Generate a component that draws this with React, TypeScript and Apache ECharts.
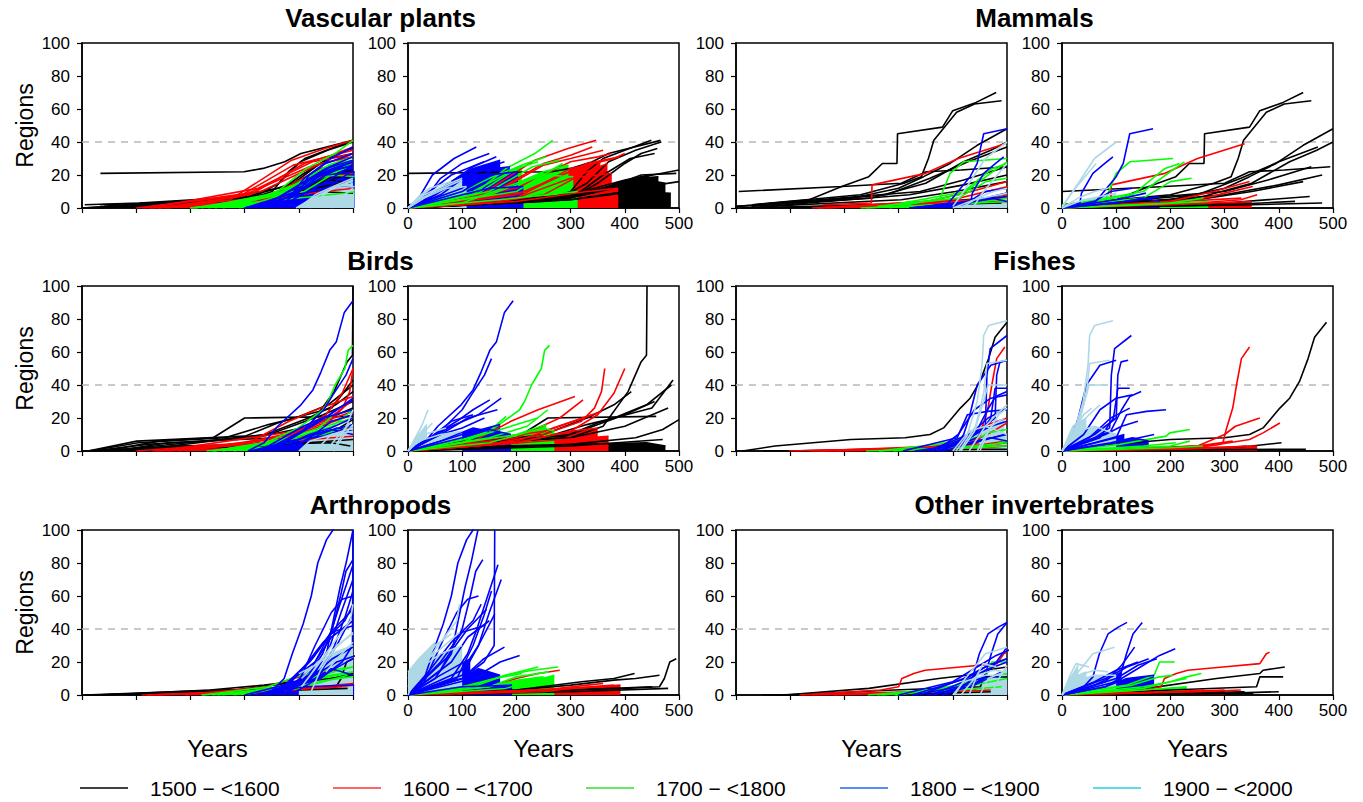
import React, { useEffect, useRef } from "react";
import * as echarts from "echarts";

// Each line: [firstRecordYear, t0, y0, t1, y1, ...] with t = years since first record, y = number of regions
type Line = number[];
// Dense bundle outline: [cohortIndex, firstRecordYear, t0, y0, ...] (drawn filled, as the dense mass of lines)
type Band = number[];

const FONT = "Arial, 'Liberation Sans', Helvetica, sans-serif";

const TAXA = ["Vascular plants", "Mammals", "Birds", "Fishes", "Arthropods", "Other invertebrates"];
const COHORTS = ["1500 \u2212 <1600", "1600 \u2212 <1700", "1700 \u2212 <1800", "1800 \u2212 <1900", "1900 \u2212 <2000"];
const LINE_COLORS = ["#000000", "#ff0000", "#00ff00", "#0000ff", "#add8e6"];
const LEGEND_COLORS = ["#000000", "#ff3333", "#33dd33", "#1f66ee", "#22d3e0"];
const Y_TICKS = [0, 20, 40, 60, 80, 100];
const YEAR_RANGE = [1500, 2000];
const ELAPSED_RANGE = [0, 500];
const TICK_STEP = 100;
const THRESHOLD = 40;

// ---------------- Vascular plants ----------------
const plantsK: Line[] = [
  [1534, 0, 21, 265, 22, 300, 24, 340, 28, 370, 33, 466, 41],
  [1551, 0, 1, 150, 3, 250, 5, 300, 10, 330, 22, 360, 30, 400, 35, 449, 41],
  [1533, 0, 2, 200, 4, 280, 6, 330, 15, 370, 28, 420, 35, 467, 40],
  [1500, 0, 0, 200, 4, 300, 8, 360, 12, 420, 18, 500, 23],
  [1500, 0, 0, 300, 5, 400, 10, 460, 14, 500, 16],
  [1540, 0, 1, 300, 6, 350, 15, 400, 27, 430, 33, 460, 36],
  [1545, 0, 1, 310, 8, 360, 20, 410, 30, 455, 33],
  [1505, 0, 2, 100, 3, 300, 7, 380, 14, 430, 20, 495, 21],
];
const plantsR: Line[] = [
  [1653, 0, 0, 120, 5, 234, 29, 295, 36, 347, 41],
  [1640, 0, 0, 150, 7, 250, 26, 300, 30, 360, 35],
  [1625, 0, 0, 200, 12, 300, 28, 350, 31, 375, 33],
  [1600, 0, 0, 200, 8, 320, 25, 380, 30, 400, 33],
  [1660, 0, 0, 150, 8, 250, 27, 300, 32, 340, 37],
  [1610, 0, 0, 220, 10, 330, 27, 390, 31],
];
const plantsG: Line[] = [
  [1733, 0, 0, 120, 8, 181, 24, 234, 33, 267, 41],
  [1760, 0, 0, 120, 10, 200, 24, 240, 28],
  [1720, 0, 0, 150, 10, 230, 25, 280, 29],
  [1745, 0, 0, 130, 9, 210, 26, 255, 31],
];
const plantsB: Line[] = [
  [1874, 0, 0, 20, 6, 45, 20, 85, 30, 126, 37],
  [1850, 0, 0, 30, 5, 60, 18, 100, 27, 150, 33],
  [1837, 0, 0, 40, 6, 80, 16, 120, 25, 163, 31],
  [1822, 0, 0, 50, 8, 100, 18, 140, 24, 178, 28],
  [1860, 0, 0, 40, 10, 80, 20, 140, 28],
  [1830, 0, 0, 60, 8, 110, 20, 170, 26],
];
const plantsL: Line[] = [
  [1900, 0, 0, 30, 8, 70, 14, 100, 18],
  [1920, 0, 0, 40, 12, 80, 16],
];
const plantsBand: Band[] = [
  [0, 1515, 0, 0, 300, 5, 420, 10, 485, 9],
  [0, 1520, 0, 0, 200, 3, 300, 6, 380, 12, 440, 17, 475, 15],
  [0, 1530, 0, 0, 250, 4, 350, 10, 420, 18, 462, 19],
  [0, 1550, 0, 0, 300, 8, 400, 17, 445, 20],
  [1, 1615, 0, 0, 200, 4, 330, 10, 388, 12],
  [1, 1625, 0, 0, 200, 6, 300, 18, 376, 21],
  [1, 1630, 0, 0, 150, 3, 250, 8, 330, 22, 368, 27],
  [1, 1640, 0, 0, 100, 2, 200, 6, 300, 24, 355, 28],
  [2, 1700, 0, 0, 200, 6, 313, 10],
  [2, 1705, 0, 0, 150, 8, 250, 20, 305, 19],
  [2, 1700, 0, 0, 100, 3, 200, 15, 250, 22, 296, 26],
  [2, 1710, 0, 0, 200, 10, 285, 27],
  [2, 1790, 0, 0, 100, 10, 150, 18, 210, 26],
  [3, 1800, 0, 0, 150, 12, 213, 13],
  [3, 1800, 0, 0, 100, 10, 150, 20, 203, 22],
  [3, 1810, 0, 0, 100, 12, 160, 24, 188, 25],
  [3, 1830, 0, 0, 70, 14, 120, 24, 170, 29],
  [3, 1860, 0, 0, 80, 14, 140, 26],
  [3, 1885, 0, 0, 50, 8, 115, 23],
  [4, 1900, 0, 0, 20, 5, 50, 10, 100, 17],
  [4, 1895, 0, 0, 30, 6, 70, 12, 108, 13],
  [4, 1960, 0, 0, 20, 7, 40, 12],
];

// ---------------- Mammals ----------------
const mammalsK: Line[] = [
  [1535, 0, 2, 100, 5, 160, 13, 210, 19, 235, 27, 262, 27, 263, 45, 346, 49, 365, 59, 408, 64, 445, 70],
  [1530, 0, 2, 200, 8, 280, 15, 312, 19, 325, 30, 335, 41, 377, 58, 410, 63, 460, 65],
  [1500, 0, 1, 200, 5, 300, 12, 346, 19, 395, 27, 445, 38, 500, 48],
  [1500, 0, 1, 250, 6, 350, 15, 420, 28, 470, 35, 500, 40],
  [1528, 0, 1, 250, 8, 330, 18, 400, 28, 472, 37],
  [1540, 0, 2, 300, 10, 380, 17, 460, 25],
  [1555, 0, 1, 250, 5, 350, 10, 445, 16],
  [1543, 0, 0, 300, 3, 457, 7],
  [1505, 0, 10, 190, 13, 300, 15, 346, 22, 410, 23, 495, 25],
  [1520, 0, 0, 300, 8, 400, 14, 480, 20],
  [1510, 0, 0, 350, 2, 480, 3],
  [1560, 0, 0, 300, 2, 430, 4],
];
const mammalsR: Line[] = [
  [1660, 0, 2, 90, 3, 91, 14, 190, 21, 250, 30, 337, 39],
  [1654, 0, 0, 200, 4, 280, 10, 346, 16],
  [1650, 0, 0, 250, 5, 300, 9, 352, 13],
  [1670, 0, 0, 331, 6],
  [1640, 0, 0, 250, 3, 330, 5, 360, 8],
];
const mammalsG: Line[] = [
  [1795, 0, 2, 80, 5, 100, 21, 125, 28, 205, 30],
  [1774, 0, 1, 150, 10, 200, 22, 226, 28],
  [1761, 0, 1, 150, 6, 200, 16, 239, 18],
  [1783, 0, 0, 130, 8, 190, 24, 217, 27],
  [1740, 0, 0, 200, 3, 260, 6],
];
const mammalsB: Line[] = [
  [1832, 0, 0, 60, 3, 100, 19, 113, 27, 125, 45, 168, 48],
  [1900, 0, 1, 33, 3, 36, 9, 57, 21, 79, 27, 94, 31],
  [1845, 0, 0, 100, 5, 155, 9],
  [1820, 0, 0, 120, 4, 180, 7],
  [1870, 0, 0, 60, 4, 90, 10, 130, 12],
];
const mammalsL: Line[] = [
  [1900, 0, 1, 20, 10, 40, 20, 60, 30, 100, 40],
  [1937, 0, 0, 15, 8, 40, 18, 63, 27],
  [1915, 0, 0, 30, 6, 60, 10, 85, 12],
];
const mammalsBand: Band[] = [
  [1, 1650, 0, 0, 200, 2, 350, 4],
  [2, 1730, 0, 0, 150, 2, 270, 4],
  [3, 1820, 0, 0, 100, 3, 150, 6, 180, 4],
  [4, 1900, 0, 0, 40, 5, 100, 9],
];

// ---------------- Birds ----------------
const birdsK: Line[] = [
  [1559, 0, 0, 100, 5, 300, 8, 360, 15, 406, 36, 430, 54, 440, 58, 441, 100],
  [1511, 0, 0, 90, 6, 290, 9, 350, 17, 380, 20, 450, 26, 489, 43],
  [1514, 0, 0, 90, 5, 250, 8, 330, 16, 380, 20, 440, 28, 486, 40],
  [1520, 0, 0, 100, 4, 300, 8, 400, 15, 480, 26],
  [1500, 0, 0, 300, 4, 420, 8, 470, 13, 500, 19],
  [1542, 0, 0, 100, 6, 200, 8, 258, 20, 458, 21],
  [1588, 0, 0, 250, 10, 330, 20, 380, 28, 412, 36],
  [1545, 0, 0, 300, 10, 400, 22, 455, 30],
  [1530, 0, 0, 300, 3, 470, 7],
];
const birdsR: Line[] = [
  [1637, 0, 0, 150, 4, 250, 10, 320, 18, 344, 26, 357, 36, 363, 50],
  [1600, 0, 0, 200, 5, 300, 12, 350, 22, 380, 35, 400, 50],
  [1692, 0, 0, 120, 6, 190, 18, 240, 25, 308, 33],
  [1677, 0, 0, 200, 8, 280, 20, 323, 31],
  [1643, 0, 0, 250, 12, 357, 24],
  [1660, 0, 0, 200, 6, 280, 15, 340, 22],
];
const birdsG: Line[] = [
  [1739, 0, 0, 100, 5, 160, 14, 206, 25, 215, 30, 228, 40, 246, 50, 252, 61, 261, 64],
  [1780, 0, 0, 100, 7, 150, 12, 181, 21],
  [1742, 0, 0, 150, 8, 220, 15, 258, 25],
  [1760, 0, 0, 120, 8, 200, 16, 240, 20],
];
const birdsB: Line[] = [
  [1806, 0, 0, 30, 5, 55, 15, 98, 28, 120, 37, 135, 48, 151, 61, 163, 66, 178, 84, 194, 91],
  [1846, 0, 0, 60, 12, 100, 25, 117, 34, 141, 46, 154, 56],
  [1828, 0, 0, 80, 15, 130, 22, 172, 32],
  [1849, 0, 0, 90, 18, 120, 25, 151, 31],
  [1859, 0, 0, 60, 10, 100, 14, 141, 20],
  [1880, 0, 0, 40, 8, 80, 18, 120, 22],
  [1835, 0, 0, 70, 12, 110, 20, 165, 25],
];
const birdsL: Line[] = [
  [1963, 0, 0, 10, 6, 25, 15, 37, 25],
  [1950, 0, 0, 20, 8, 45, 17],
  [1930, 0, 0, 30, 10, 70, 14],
];
const birdsBand: Band[] = [
  [0, 1520, 0, 0, 150, 3, 300, 4, 440, 5, 475, 3],
  [1, 1630, 0, 0, 250, 6, 370, 9],
  [1, 1650, 0, 0, 200, 5, 300, 12, 350, 14],
  [2, 1730, 0, 0, 150, 5, 250, 14, 270, 12],
  [2, 1745, 0, 0, 200, 10, 255, 16],
  [3, 1810, 0, 0, 100, 8, 150, 13, 190, 10],
  [3, 1830, 0, 0, 100, 10, 170, 16],
  [3, 1850, 0, 0, 60, 6, 120, 14, 150, 12],
  [4, 1900, 0, 0, 20, 6, 60, 10, 100, 12],
  [4, 1965, 0, 0, 15, 8, 35, 16],
];

// ---------------- Fishes ----------------
const fishesK: Line[] = [
  [1512, 0, 0, 60, 3, 200, 7, 300, 8, 346, 10, 371, 14, 402, 26, 420, 32, 438, 42, 454, 56, 466, 69, 488, 78],
  [1595, 0, 0, 300, 2, 350, 3, 405, 5],
  [1550, 0, 0, 400, 1, 450, 1],
];
const fishesR: Line[] = [
  [1650, 0, 0, 200, 2, 290, 4, 297, 5, 303, 13, 315, 26, 322, 40, 331, 56, 346, 63],
  [1598, 0, 0, 250, 2, 346, 7, 371, 11, 402, 17],
  [1635, 0, 0, 250, 3, 300, 10, 320, 15, 365, 20],
  [1685, 0, 0, 250, 3, 315, 6],
  [1660, 0, 0, 200, 1, 300, 2, 340, 3],
];
const fishesG: Line[] = [
  [1764, 0, 0, 106, 4, 192, 9, 199, 11, 236, 13],
  [1764, 0, 0, 200, 3, 236, 6],
  [1790, 0, 0, 150, 3, 210, 5],
];
const fishesB: Line[] = [
  [1872, 0, 0, 60, 8, 88, 14, 91, 46, 97, 62, 128, 70],
  [1878, 0, 0, 60, 10, 100, 20, 103, 46, 109, 54, 122, 55],
  [1854, 0, 0, 90, 12, 110, 25, 125, 33, 146, 36],
  [1875, 0, 0, 70, 8, 95, 20, 103, 38, 125, 38],
  [1808, 0, 0, 100, 8, 119, 22, 156, 24, 192, 25],
  [1875, 0, 0, 50, 8, 90, 20, 125, 26],
  [1870, 0, 0, 40, 10, 70, 25, 100, 32, 130, 34],
  [1900, 0, 0, 20, 10, 30, 20, 45, 40, 70, 52, 100, 55],
  [1830, 0, 0, 100, 5, 170, 10],
  [1860, 0, 0, 80, 10, 110, 15, 140, 18],
];
const fishesL: Line[] = [
  [1906, 0, 0, 20, 9, 39, 30, 48, 52, 51, 70, 60, 76, 94, 79],
  [1912, 0, 0, 30, 15, 45, 35, 51, 53, 88, 55],
  [1915, 0, 0, 25, 12, 40, 28, 50, 40, 85, 40],
  [1930, 0, 0, 30, 15, 50, 22, 70, 28],
  [1945, 0, 0, 20, 12, 40, 22, 55, 26],
];
const fishesBand: Band[] = [
  [1, 1640, 0, 0, 250, 2, 360, 3],
  [2, 1740, 0, 0, 200, 2, 260, 3],
  [3, 1840, 0, 0, 90, 5, 130, 8, 160, 6],
  [3, 1880, 0, 0, 60, 5, 115, 10],
  [4, 1900, 0, 0, 30, 12, 60, 15, 100, 10],
  [4, 1950, 0, 0, 20, 15, 45, 20],
];

// ---------------- Arthropods ----------------
const arthroK: Line[] = [
  [1505, 0, 0, 250, 3, 400, 4, 464, 5, 473, 10, 483, 20, 495, 22],
  [1536, 0, 0, 200, 3, 300, 6, 380, 9, 420, 10, 464, 12],
  [1582, 0, 0, 200, 3, 320, 8, 380, 10, 418, 13],
  [1520, 0, 0, 300, 3, 450, 5],
  [1510, 0, 0, 300, 2, 480, 4],
];
const arthroR: Line[] = [
  [1690, 0, 0, 150, 5, 200, 10, 240, 13, 280, 15],
  [1640, 0, 0, 250, 3, 330, 6, 360, 7],
  [1620, 0, 0, 300, 4, 380, 6],
];
const arthroG: Line[] = [
  [1723, 0, 0, 120, 5, 180, 12, 230, 15, 277, 17],
  [1760, 0, 0, 120, 6, 180, 12, 240, 17],
  [1740, 0, 0, 150, 5, 200, 11, 260, 14],
  [1780, 0, 0, 100, 5, 160, 10, 210, 13],
];
const arthroB: Line[] = [
  [1843, 0, 0, 30, 10, 45, 25, 65, 43, 80, 60, 92, 80, 108, 94, 120, 100, 157, 130],
  [1871, 0, 0, 50, 10, 80, 25, 105, 65, 117, 81, 129, 100],
  [1840, 0, 0, 100, 10, 140, 20, 159, 30, 160, 100],
  [1862, 0, 0, 60, 15, 100, 40, 115, 60, 125, 75, 138, 82],
  [1834, 0, 0, 80, 10, 110, 25, 126, 39, 148, 61, 166, 79],
  [1828, 0, 0, 100, 12, 130, 30, 150, 50, 172, 70],
  [1846, 0, 0, 90, 10, 120, 30, 140, 48, 154, 63],
  [1840, 0, 0, 100, 15, 130, 30, 160, 49],
  [1822, 0, 0, 100, 10, 140, 22, 178, 29],
  [1800, 0, 0, 120, 10, 170, 20, 206, 24],
  [1850, 0, 0, 80, 20, 110, 35, 150, 45],
  [1870, 0, 0, 30, 8, 60, 30, 90, 50, 110, 58, 130, 60],
  [1860, 0, 0, 60, 20, 100, 38, 140, 42],
  [1855, 0, 0, 70, 22, 110, 40, 145, 52],
  [1865, 0, 0, 40, 15, 80, 32, 120, 45, 135, 55],
];
const arthroL: Line[] = [
  [1905, 0, 5, 30, 18, 60, 32, 90, 45, 95, 55],
  [1920, 0, 0, 20, 15, 50, 30, 80, 37],
  [1905, 0, 10, 30, 20, 60, 28, 95, 38],
];
const arthroBand: Band[] = [
  [1, 1610, 0, 0, 250, 2, 300, 4, 392, 6],
  [1, 1620, 0, 0, 250, 3, 360, 5],
  [2, 1720, 0, 0, 180, 4, 270, 12],
  [2, 1750, 0, 0, 150, 5, 200, 9, 250, 11],
  [3, 1810, 0, 0, 100, 5, 192, 6],
  [3, 1830, 0, 0, 100, 10, 130, 16, 170, 12],
  [3, 1885, 0, 0, 60, 12, 115, 22],
  [4, 1900, 0, 13, 30, 18, 60, 25, 100, 30],
  [4, 1950, 0, 14, 20, 22, 50, 32],
];

// ---------------- Other invertebrates ----------------
const otherK: Line[] = [
  [1589, 0, 0, 156, 4, 285, 10, 365, 13, 371, 15, 411, 17],
  [1592, 0, 0, 200, 3, 359, 5, 365, 11, 408, 11],
  [1560, 0, 0, 337, 2],
  [1550, 0, 0, 353, 1],
  [1570, 0, 0, 300, 1, 400, 2],
];
const otherR: Line[] = [
  [1617, 0, 0, 150, 3, 183, 5, 189, 10, 211, 13, 232, 15, 297, 17, 365, 19, 377, 25, 383, 26],
  [1680, 0, 0, 200, 2, 263, 3],
  [1640, 0, 0, 250, 2, 330, 3],
];
const otherG: Line[] = [
  [1792, 0, 0, 120, 6, 170, 12, 180, 20, 208, 20],
  [1743, 0, 0, 150, 4, 200, 8, 230, 11, 257, 13],
  [1795, 0, 0, 130, 6, 180, 11, 205, 12],
  [1770, 0, 0, 150, 5, 200, 8, 230, 10],
];
const otherB: Line[] = [
  [1880, 0, 0, 40, 5, 57, 11, 69, 25, 85, 37, 103, 41, 120, 44],
  [1852, 0, 0, 80, 5, 106, 10, 119, 25, 131, 37, 148, 44],
  [1800, 0, 0, 100, 8, 150, 18, 180, 24, 209, 28],
  [1866, 0, 0, 80, 8, 110, 18, 134, 29],
  [1840, 0, 0, 80, 10, 120, 17, 160, 22],
  [1825, 0, 0, 100, 10, 140, 18, 175, 22],
  [1860, 0, 0, 60, 8, 100, 15, 140, 20],
];
const otherL: Line[] = [
  [1903, 0, 0, 20, 10, 40, 18, 57, 25, 97, 29],
  [1930, 0, 0, 15, 12, 26, 19, 50, 17],
  [1915, 0, 0, 30, 12, 60, 15, 85, 14],
];
const otherBand: Band[] = [
  [1, 1620, 0, 0, 200, 2, 300, 3],
  [2, 1760, 0, 0, 150, 3, 230, 5],
  [3, 1830, 0, 0, 80, 5, 120, 10, 170, 12],
  [3, 1880, 0, 0, 60, 6, 110, 14],
  [4, 1900, 0, 0, 20, 8, 60, 12, 100, 12],
  [4, 1950, 0, 0, 15, 10, 45, 14],
  [4, 1970, 0, 0, 15, 10, 30, 18],
];

const GROUPS = [
  { title: TAXA[0], cohorts: [plantsK, plantsR, plantsG, plantsB, plantsL], bands: plantsBand },
  { title: TAXA[1], cohorts: [mammalsK, mammalsR, mammalsG, mammalsB, mammalsL], bands: mammalsBand },
  { title: TAXA[2], cohorts: [birdsK, birdsR, birdsG, birdsB, birdsL], bands: birdsBand },
  { title: TAXA[3], cohorts: [fishesK, fishesR, fishesG, fishesB, fishesL], bands: fishesBand },
  { title: TAXA[4], cohorts: [arthroK, arthroR, arthroG, arthroB, arthroL], bands: arthroBand },
  { title: TAXA[5], cohorts: [otherK, otherR, otherG, otherB, otherL], bands: otherBand },
];

// layout
const GRID_LEFTS = [82, 408, 736, 1062];
const GRID_TOPS = [43, 286, 530];
const GRID_W = 271;
const GRID_H = 165;

function toPoints(line: number[], calendar: boolean): number[][] {
  const s = line[0];
  const pts: number[][] = [];
  for (let i = 1; i + 1 < line.length; i += 2) {
    pts.push([calendar ? s + line[i] : line[i], line[i + 1]]);
  }
  return pts;
}

function textStyle(text: string, font: string, align: string) {
  return {
    text,
    font,
    fill: "#000",
    align,
    verticalAlign: "middle",
    textAlign: align,
    textVerticalAlign: "middle",
  };
}

function buildOption() {
  const grid: any[] = [];
  const xAxis: any[] = [];
  const yAxis: any[] = [];
  const series: any[] = [];
  const graphic: any[] = [];

  GROUPS.forEach((g, gi) => {
    const row = Math.floor(gi / 2);
    const pc = gi % 2;
    for (let k = 0; k < 2; k++) {
      const calendar = k === 0;
      const idx = gi * 2 + k;
      const col = pc * 2 + k;
      const range = calendar ? YEAR_RANGE : ELAPSED_RANGE;
      grid.push({
        left: GRID_LEFTS[col],
        top: GRID_TOPS[row],
        width: GRID_W,
        height: GRID_H,
        show: true,
        borderColor: "#000",
        borderWidth: 1.5,
        backgroundColor: "transparent",
        containLabel: false,
      });
      xAxis.push({
        gridIndex: idx,
        type: "value",
        min: range[0],
        max: range[1],
        interval: TICK_STEP,
        axisLine: { show: true, lineStyle: { color: "#000", width: 1.5 } },
        axisTick: { show: true, length: 5, lineStyle: { color: "#000", width: 1.2 } },
        axisLabel: { show: !calendar, fontSize: 17, color: "#000", margin: 7, fontFamily: FONT },
        splitLine: { show: false },
      });
      yAxis.push({
        gridIndex: idx,
        type: "value",
        min: Y_TICKS[0],
        max: Y_TICKS[Y_TICKS.length - 1],
        interval: Y_TICKS[1] - Y_TICKS[0],
        axisLine: { show: true, lineStyle: { color: "#000", width: 1.5 } },
        axisTick: { show: true, length: 5, lineStyle: { color: "#000", width: 1.2 } },
        axisLabel: { fontSize: 17, color: "#000", margin: 12, fontFamily: FONT },
        splitLine: { show: false },
      });
      // threshold reference line
      series.push({
        type: "line",
        xAxisIndex: idx,
        yAxisIndex: idx,
        data: [
          [range[0], THRESHOLD],
          [range[1], THRESHOLD],
        ],
        symbol: "none",
        silent: true,
        z: 1,
        lineStyle: { color: "#b8b8b8", width: 1.5, type: [7, 6] },
      });
      for (let c = 0; c < LINE_COLORS.length; c++) {
        const color = LINE_COLORS[c];
        g.bands
          .filter((b) => b[0] === c)
          .forEach((b) => {
            series.push({
              type: "line",
              xAxisIndex: idx,
              yAxisIndex: idx,
              data: toPoints(b.slice(1), calendar),
              symbol: "none",
              silent: true,
              clip: true,
              lineStyle: { color, width: 1.5 },
              areaStyle: { color, opacity: 1 },
            });
          });
        g.cohorts[c].forEach((line) => {
          series.push({
            type: "line",
            xAxisIndex: idx,
            yAxisIndex: idx,
            data: toPoints(line, calendar),
            symbol: "none",
            silent: true,
            clip: true,
            lineStyle: { color, width: 1.6 },
          });
        });
      }
    }
    // title centred over the pair
    const cx = (GRID_LEFTS[pc * 2] + GRID_LEFTS[pc * 2 + 1] + GRID_W) / 2;
    graphic.push({
      type: "text",
      x: cx,
      y: GRID_TOPS[row] - 25,
      style: textStyle(g.title, `bold 26px ${FONT}`, "center"),
    });
  });

  // "Regions" y-axis titles
  GRID_TOPS.forEach((top) => {
    graphic.push({
      type: "text",
      x: 25,
      y: top + GRID_H / 2,
      rotation: Math.PI / 2,
      style: textStyle("Regions", `23px ${FONT}`, "center"),
    });
  });

  // "Years" x-axis titles
  GRID_LEFTS.forEach((left) => {
    graphic.push({
      type: "text",
      x: left + GRID_W / 2,
      y: 748,
      style: textStyle("Years", `24px ${FONT}`, "center"),
    });
  });

  // legend
  const legendX = [80, 333, 586, 840, 1093];
  COHORTS.forEach((label, i) => {
    graphic.push({
      type: "line",
      shape: { x1: legendX[i], y1: 788, x2: legendX[i] + 48, y2: 788 },
      style: { stroke: LEGEND_COLORS[i], lineWidth: 1.5 },
    });
    graphic.push({
      type: "text",
      x: legendX[i] + 70,
      y: 788,
      style: textStyle(label, `21px ${FONT}`, "left"),
    });
  });

  return {
    animation: false,
    backgroundColor: "#ffffff",
    grid,
    xAxis,
    yAxis,
    series,
    graphic,
  };
}

export default function App() {
  const ref = useRef<HTMLDivElement>(null);
  useEffect(() => {
    if (!ref.current) return;
    const chart = echarts.init(ref.current, null, { renderer: "svg" });
    chart.setOption(buildOption() as any);
    return () => chart.dispose();
  }, []);
  return (
    <div
      ref={ref}
      style={{ position: "fixed", left: 0, top: 0, width: 1363, height: 802, background: "#fff" }}
    />
  );
}
